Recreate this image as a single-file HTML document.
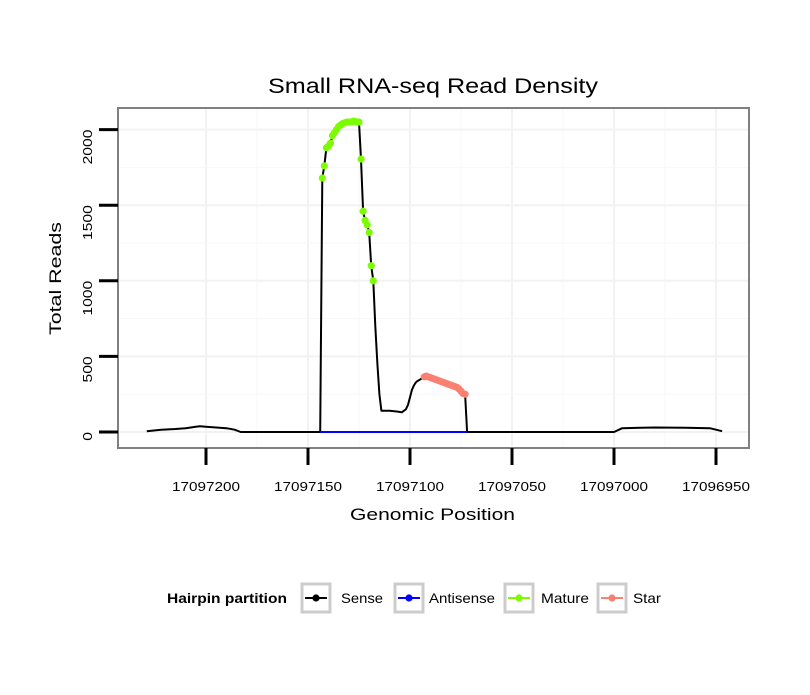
<!DOCTYPE html>
<html><head><meta charset="utf-8"><style>
body{margin:0;background:#fff;font-family:"Liberation Sans",sans-serif}
</style></head><body>
<svg id="c" width="810" height="690" xmlns="http://www.w3.org/2000/svg" font-family="Liberation Sans, sans-serif">
<rect width="810" height="690" fill="#fff"/>
<text x="268" y="93" font-size="21" textLength="330" lengthAdjust="spacingAndGlyphs">Small RNA-seq Read Density</text>
<g id="grid"></g>
<g id="series"></g>
<rect x="118" y="108" width="631" height="340" fill="none" stroke="#808080" stroke-width="2"/>
<g id="axes"></g>
<text x="350" y="520" font-size="17" textLength="165" lengthAdjust="spacingAndGlyphs">Genomic Position</text>
<text transform="translate(61,335) rotate(-90)" font-size="17" textLength="113" lengthAdjust="spacingAndGlyphs">Total Reads</text>
<g>
<text x="167" y="603" font-size="14" font-weight="bold" textLength="120" lengthAdjust="spacingAndGlyphs">Hairpin partition</text>
<g id="legend"></g>
</g>
</svg>
<script>
const senseX=[17097229,17097222,17097215,17097210,17097205,17097203,17097200,17097195,17097190,17097186,17097183,17097144,17097143,17097142,17097141,17097140,17097139,17097138,17097137,17097136,17097135,17097134,17097133,17097132,17097131,17097130,17097129,17097128,17097127,17097126,17097125,17097124,17097123,17097122,17097121,17097120,17097119,17097118,17097117,17097116,17097115,17097114,17097110,17097106,17097104,17097102,17097101,17097100,17097099,17097098,17097097,17097096,17097094,17097093,17097090,17097087,17097084,17097081,17097078,17097075,17097073,17097072,17097000,17096996,17096980,17096965,17096953,17096947];
const senseY=[5,15,20,25,35,38,35,30,25,15,0,0,1680,1760,1880,1890,1910,1960,1980,2000,2020,2030,2040,2045,2050,2050,2050,2055,2055,2050,2050,1805,1460,1400,1370,1320,1100,1000,700,450,250,140,140,135,130,150,180,230,280,310,330,340,355,365,365,350,335,320,305,290,250,0,0,25,30,28,25,5];
const antiX=[17097144,17097072];
const antiY=[0,0];
const matureX=[17097143,17097142,17097141,17097140,17097139,17097138,17097137,17097136,17097135,17097134,17097133,17097132,17097131,17097130,17097129,17097128,17097127,17097126,17097125,17097124,17097123,17097122,17097121,17097120,17097119,17097118];
const matureY=[1680,1760,1880,1890,1910,1960,1980,2000,2020,2030,2040,2045,2050,2050,2050,2055,2055,2050,2050,1805,1460,1400,1370,1320,1100,1000];
const starX=[17097093,17097092,17097091,17097090,17097089,17097088,17097087,17097086,17097085,17097084,17097083,17097082,17097081,17097080,17097079,17097078,17097077,17097076,17097075,17097074,17097073];
const starY=[365,370,365,360,355,350,345,340,335,330,325,320,315,310,305,300,295,285,270,255,250];
const xTicks=[17097200,17097150,17097100,17097050,17097000,17096950];
const yTicks=[0,500,1000,1500,2000];
const legendLabels=["Sense","Antisense","Mature","Star"];
const legendColors=["#000000","#0000ff","#7cfc00","#fa8072"];

const NS="http://www.w3.org/2000/svg";
function X(p){return 206+(17097200-p)*2.04;}
function Y(v){return 432-v*0.1512;}
function mk(t,a,parent){const e=document.createElementNS(NS,t);for(const k in a)e.setAttribute(k,a[k]);parent.appendChild(e);return e;}
const grid=document.getElementById('grid'),ser=document.getElementById('series'),ax=document.getElementById('axes'),leg=document.getElementById('legend');
for(let i=0;i<xTicks.length;i++){
  let l=mk('line',{x1:X(xTicks[i]),x2:X(xTicks[i]),y1:108,y2:448,stroke:'#f2f2f2','stroke-width':2},grid);
  
  
  if(i<xTicks.length-1){const m=(xTicks[i]+xTicks[i+1])/2;
    let n=mk('line',{x1:X(m),x2:X(m),y1:108,y2:448,stroke:'#f7f7f7','stroke-width':1},grid);
    
    }
}
for(let i=0;i<yTicks.length;i++){
  let l=mk('line',{x1:118,x2:749,y1:Y(yTicks[i]),y2:Y(yTicks[i]),stroke:'#f2f2f2','stroke-width':2},grid);
  
  
  if(i<yTicks.length-1){const m=(yTicks[i]+yTicks[i+1])/2;
    let n=mk('line',{x1:118,x2:749,y1:Y(m),y2:Y(m),stroke:'#f7f7f7','stroke-width':1},grid);
    
    }
}
function path(xs,ys){return xs.map((p,i)=>(i?'L':'M')+X(p).toFixed(1)+','+Y(ys[i]).toFixed(1)).join('');}
let s=mk('path',{d:path(senseX,senseY),fill:'none',stroke:'#000','stroke-width':2,'stroke-linejoin':'round'},ser);


let a=mk('path',{d:path(antiX,antiY),fill:'none',stroke:'#0000ff','stroke-width':2},ser);


matureX.forEach((p,i)=>{let c=mk('circle',{cx:X(p),cy:Y(matureY[i]),r:3.6,fill:'#7cfc00'},ser);
  
  });
starX.forEach((p,i)=>{let c=mk('circle',{cx:X(p),cy:Y(starY[i]),r:3.6,fill:'#fa8072'},ser);
  
  });
xTicks.forEach(t=>{
  let l=mk('line',{x1:X(t),x2:X(t),y1:448,y2:465,stroke:'#000','stroke-width':3},ax);
  
  
  let tx=mk('text',{x:X(t)-34,y:491,'font-size':13,textLength:68,lengthAdjust:'spacingAndGlyphs'},ax);tx.textContent=t;
  
  
});
yTicks.forEach(t=>{
  let l=mk('line',{x1:99,x2:118,y1:Y(t),y2:Y(t),stroke:'#000','stroke-width':3},ax);
  
  
  const len=String(t).length*8.7;
  let tx=mk('text',{transform:`translate(92,${Y(t)+len}) rotate(-90)`,'font-size':13,textLength:len,lengthAdjust:'spacingAndGlyphs'},ax);tx.textContent=t;
  
  
});
const boxX=[302,408,516,608];
const textX=[341,429,541,633];
const textLen=[42,66,48,28];
legendLabels.forEach((lab,i)=>{
  const x=[302,395,505,598][i];
  let r=mk('rect',{x:x,y:584,width:28,height:28,fill:'#fff',stroke:'#cccccc','stroke-width':3},leg);
  
  
  mk('line',{x1:x+3,x2:x+25,y1:598,y2:598,stroke:legendColors[i],'stroke-width':2},leg);
  mk('circle',{cx:x+14,cy:598,r:3.6,fill:legendColors[i]},leg);
  let t=mk('text',{x:textX[i],y:603,'font-size':14,textLength:textLen[i],lengthAdjust:'spacingAndGlyphs'},leg);t.textContent=lab;
  
  
});
</script>
</body></html>
